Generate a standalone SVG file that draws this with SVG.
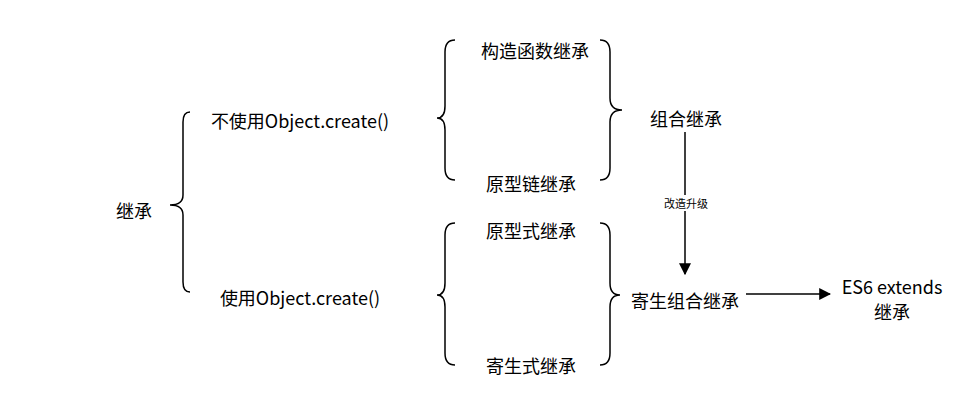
<svg xmlns="http://www.w3.org/2000/svg" width="978" height="407" viewBox="0 0 978 407">
<style>
text{font-family:"Noto Sans CJK SC","Noto Sans",sans-serif;font-size:18px;fill:#000;text-anchor:middle;dominant-baseline:central}
.b{fill:none;stroke:#000;stroke-width:1.5}
.c{stroke:#000;stroke-width:1.5;fill:none}
</style>
<defs><marker id="a" viewBox="0 0 10 10" refX="9" refY="5" markerWidth="8" markerHeight="8" orient="auto"><path d="M0,0L10,5L0,10z" fill="#000"/></marker></defs>
<rect width="978" height="407" fill="#fff"/>
<g id="braces">
<path class="b" d="M190,112 Q183,112 183,122 L183,195 Q183,205 170,205 Q183,205 183,215 L183,282 Q183,292 190,292"/>
<path class="b" d="M455,40 Q445,40 445,52 L445,106 Q445,118 437,118 Q445,118 445,130 L445,168 Q445,180 455,180"/>
<path class="b" d="M600,40 Q610,40 610,52 L610,98 Q610,110 622,110 Q610,110 610,122 L610,168 Q610,180 600,180"/>
<path class="b" d="M455,223 Q445,223 445,235 L445,283 Q445,295 437,295 Q445,295 445,307 L445,353 Q445,365 455,365"/>
<path class="b" d="M600,223 Q610,223 610,235 L610,283 Q610,295 620,295 Q610,295 610,307 L610,353 Q610,365 600,365"/>
</g>
<g id="connectors">
<line class="c" x1="685" y1="132" x2="685" y2="274" marker-end="url(#a)"/>
<rect x="657" y="195" width="58" height="16" fill="#fff"/>
<text x="686" y="203" style="font-size:11px">改造升级</text>
<line class="c" x1="746" y1="294" x2="830" y2="294" marker-end="url(#a)"/>
</g>
<g id="n1"><text x="134" y="210">继承</text></g>
<g id="n2"><text x="300" y="120">不使用Object.create()</text></g>
<g id="n3"><text x="300" y="297">使用Object.create()</text></g>
<g id="n4"><text x="535" y="50">构造函数继承</text></g>
<g id="n5"><text x="531" y="183">原型链继承</text></g>
<g id="n6"><text x="686" y="118">组合继承</text></g>
<g id="n7"><text x="531" y="230">原型式继承</text></g>
<g id="n8"><text x="531" y="365">寄生式继承</text></g>
<g id="n9"><text x="685" y="300">寄生组合继承</text></g>
<g id="n10"><text x="892" y="286">ES6 extends</text><text x="892" y="311">继承</text></g>
</svg>
